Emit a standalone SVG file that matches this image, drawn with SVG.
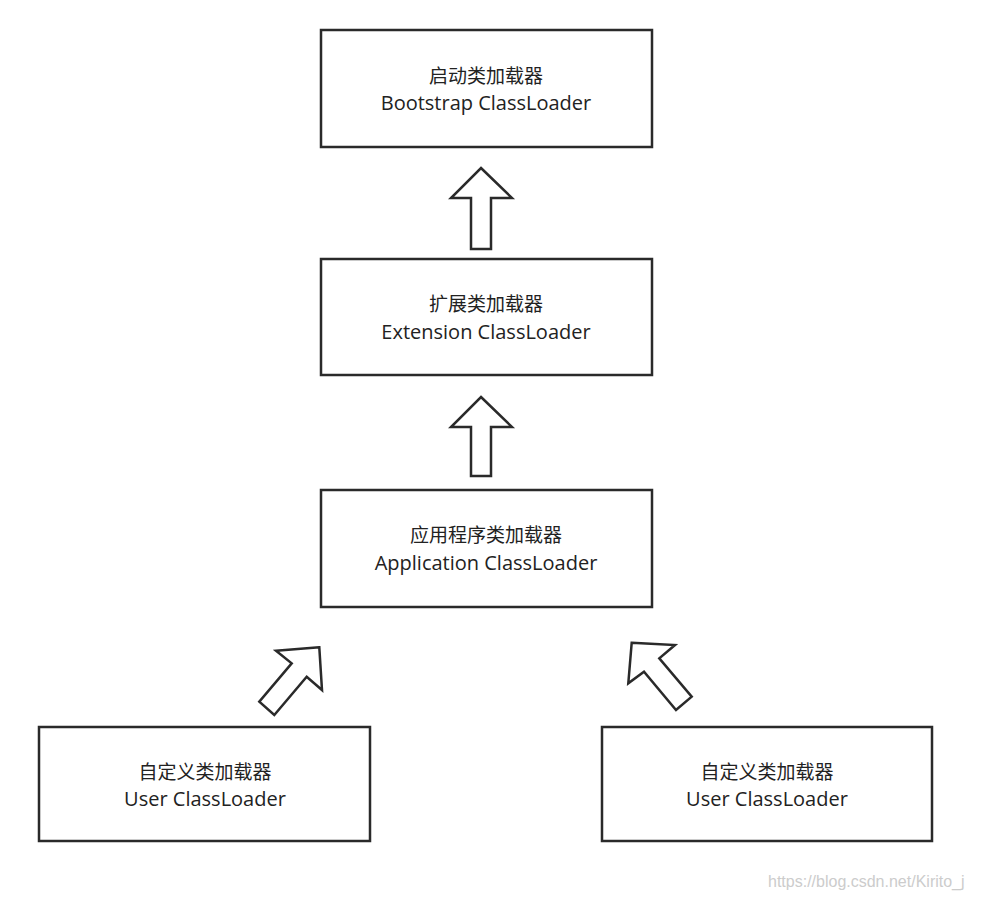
<svg xmlns="http://www.w3.org/2000/svg" width="1000" height="899" viewBox="0 0 1000 899">
<style>
.b{fill:#fff;stroke:#2a2a2a;stroke-width:2.5}
.a{fill:#fff;stroke:#2a2a2a;stroke-width:2.5;stroke-linejoin:miter}
.t{font-family:"Noto Sans CJK SC","Noto Sans",sans-serif;font-size:19px;fill:#222;text-anchor:middle}
.e{font-family:"Open Sans","Noto Sans",sans-serif;font-size:20px;fill:#222;text-anchor:middle}
.w{font-family:"Liberation Sans",sans-serif;font-size:16px;fill:#ccc}
</style>
<rect width="1000" height="899" fill="#fff"/>
<g id="bootstrap"><rect class="b" x="321" y="30" width="331" height="117"/><text class="t" x="486" y="83">启动类加载器</text><text class="e" x="486" y="110">Bootstrap ClassLoader</text></g>
<g id="extension"><rect class="b" x="321" y="259" width="331" height="116"/><text class="t" x="486" y="311">扩展类加载器</text><text class="e" x="486" y="339">Extension ClassLoader</text></g>
<g id="application"><rect class="b" x="321" y="490" width="331" height="117"/><text class="t" x="486" y="542">应用程序类加载器</text><text class="e" x="486" y="570">Application ClassLoader</text></g>
<g id="user1"><rect class="b" x="39" y="727" width="331" height="114"/><text class="t" x="205" y="779">自定义类加载器</text><text class="e" x="205" y="806">User ClassLoader</text></g>
<g id="user2"><rect class="b" x="602" y="727" width="330" height="114"/><text class="t" x="767" y="779">自定义类加载器</text><text class="e" x="767" y="806">User ClassLoader</text></g>
<g id="connectors">
<polygon class="a" points="481,168 512,198 491,198 491,249 471,249 471,198 451,198"/>
<polygon class="a" points="481,397 512,427 491,427 491,476 471,476 471,427 451,427"/>
<polygon class="a" points="319.3,647.3 276,650.7 291.7,663.3 259.3,701.7 274.3,715 306.7,676.7 322,690"/>
<polygon class="a" points="631.7,642.7 675,645 659.3,658.3 691.7,696.7 676,710 644,671.7 628.3,683.3"/>
</g>
<text class="w" x="768" y="887">https://blog.csdn.net/Kirito_j</text>
</svg>
